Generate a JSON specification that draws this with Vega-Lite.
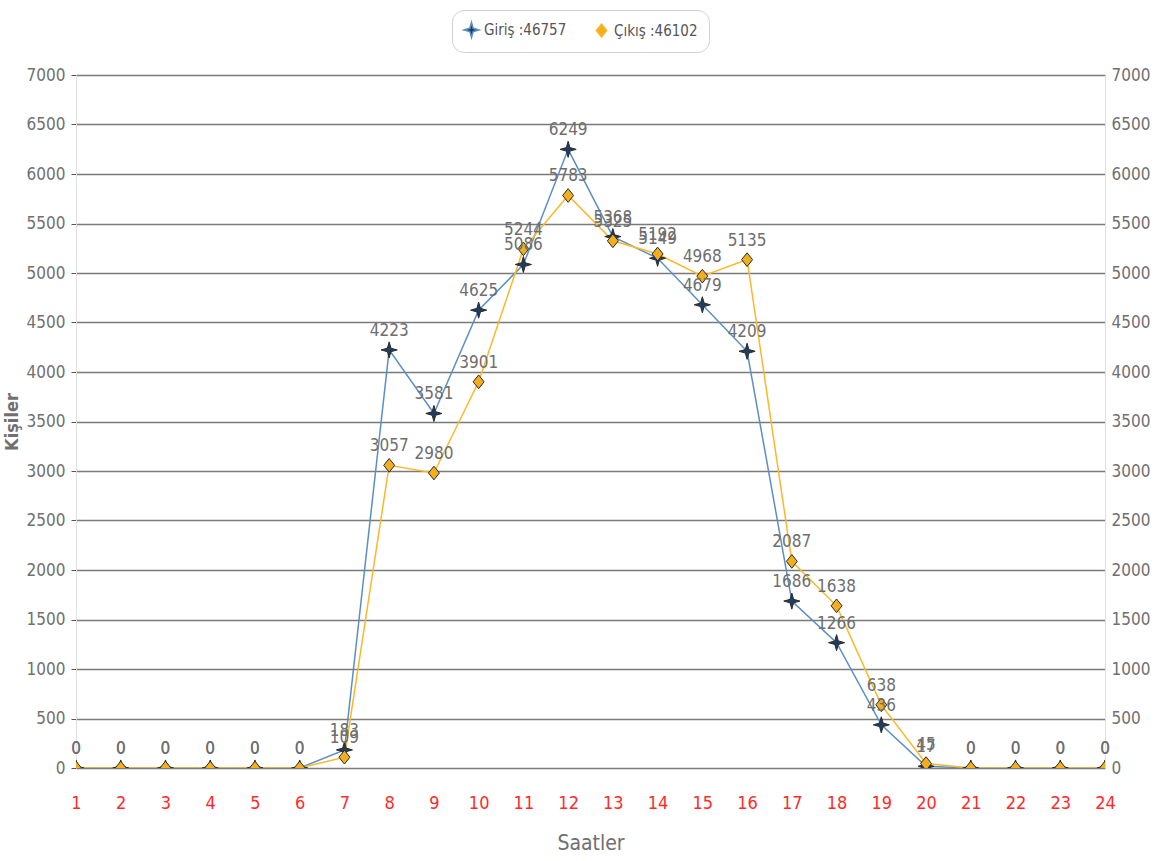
{
  "$schema": "https://vega.github.io/schema/vega-lite/v6.json",
  "autosize": "none",
  "width": 1029,
  "height": 693,
  "padding": {"left": 76, "top": 75, "right": 51, "bottom": 93},
  "background": "white",
  "config": {
    "view": {"stroke": null},
    "font": "DejaVu Sans Condensed",
    "axis": {"labelFont": "DejaVu Sans Condensed", "titleFont": "DejaVu Sans Condensed"},
    "legend": {"labelFont": "DejaVu Sans Condensed"}
  },
  "data": {
    "values": [
      {"hour": 1, "series": "Giriş :46757", "value": 0},
      {"hour": 2, "series": "Giriş :46757", "value": 0},
      {"hour": 3, "series": "Giriş :46757", "value": 0},
      {"hour": 4, "series": "Giriş :46757", "value": 0},
      {"hour": 5, "series": "Giriş :46757", "value": 0},
      {"hour": 6, "series": "Giriş :46757", "value": 0},
      {"hour": 7, "series": "Giriş :46757", "value": 183},
      {"hour": 8, "series": "Giriş :46757", "value": 4223},
      {"hour": 9, "series": "Giriş :46757", "value": 3581},
      {"hour": 10, "series": "Giriş :46757", "value": 4625},
      {"hour": 11, "series": "Giriş :46757", "value": 5086},
      {"hour": 12, "series": "Giriş :46757", "value": 6249},
      {"hour": 13, "series": "Giriş :46757", "value": 5368},
      {"hour": 14, "series": "Giriş :46757", "value": 5149},
      {"hour": 15, "series": "Giriş :46757", "value": 4679},
      {"hour": 16, "series": "Giriş :46757", "value": 4209},
      {"hour": 17, "series": "Giriş :46757", "value": 1686},
      {"hour": 18, "series": "Giriş :46757", "value": 1266},
      {"hour": 19, "series": "Giriş :46757", "value": 436},
      {"hour": 20, "series": "Giriş :46757", "value": 17},
      {"hour": 21, "series": "Giriş :46757", "value": 0},
      {"hour": 22, "series": "Giriş :46757", "value": 0},
      {"hour": 23, "series": "Giriş :46757", "value": 0},
      {"hour": 24, "series": "Giriş :46757", "value": 0},
      {"hour": 1, "series": "Çıkış :46102", "value": 0},
      {"hour": 2, "series": "Çıkış :46102", "value": 0},
      {"hour": 3, "series": "Çıkış :46102", "value": 0},
      {"hour": 4, "series": "Çıkış :46102", "value": 0},
      {"hour": 5, "series": "Çıkış :46102", "value": 0},
      {"hour": 6, "series": "Çıkış :46102", "value": 0},
      {"hour": 7, "series": "Çıkış :46102", "value": 109},
      {"hour": 8, "series": "Çıkış :46102", "value": 3057},
      {"hour": 9, "series": "Çıkış :46102", "value": 2980},
      {"hour": 10, "series": "Çıkış :46102", "value": 3901},
      {"hour": 11, "series": "Çıkış :46102", "value": 5244},
      {"hour": 12, "series": "Çıkış :46102", "value": 5783},
      {"hour": 13, "series": "Çıkış :46102", "value": 5325},
      {"hour": 14, "series": "Çıkış :46102", "value": 5192},
      {"hour": 15, "series": "Çıkış :46102", "value": 4968},
      {"hour": 16, "series": "Çıkış :46102", "value": 5135},
      {"hour": 17, "series": "Çıkış :46102", "value": 2087},
      {"hour": 18, "series": "Çıkış :46102", "value": 1638},
      {"hour": 19, "series": "Çıkış :46102", "value": 638},
      {"hour": 20, "series": "Çıkış :46102", "value": 45},
      {"hour": 21, "series": "Çıkış :46102", "value": 0},
      {"hour": 22, "series": "Çıkış :46102", "value": 0},
      {"hour": 23, "series": "Çıkış :46102", "value": 0},
      {"hour": 24, "series": "Çıkış :46102", "value": 0}
    ]
  },
  "encoding": {
    "x": {
      "field": "hour",
      "type": "quantitative",
      "scale": {"domain": [1, 24], "nice": false, "zero": false},
      "axis": {
        "values": [1,2,3,4,5,6,7,8,9,10,11,12,13,14,15,16,17,18,19,20,21,22,23,24],
        "title": "Saatler",
        "titleFontSize": 21,
        "titleFontWeight": "normal",
        "titleColor": "#707070",
        "titlePadding": 20,
        "labelColor": "#ff2a2a",
        "labelFontSize": 18,
        "labelPadding": 26,
        "labelFlush": false,
        "labelBound": false,
        "labelOverlap": false,
        "ticks": false,
        "domain": false,
        "grid": false
      }
    }
  },
  "layer": [
    {
      "mark": {"type": "line", "strokeWidth": 1.5, "clip": true},
      "encoding": {
        "y": {
          "field": "value",
          "type": "quantitative",
          "scale": {"domain": [0, 7000], "nice": false},
          "axis": {
            "values": [0,500,1000,1500,2000,2500,3000,3500,4000,4500,5000,5500,6000,6500,7000],
            "format": "d",
            "title": "Kişiler",
            "titleFontSize": 18,
            "titleFontWeight": "bold",
            "titleColor": "#707070",
            "titlePadding": 5,
            "labelColor": "#707070",
            "labelFontSize": 17,
            "labelPadding": 6,
            "grid": true,
            "gridColor": "#7a7a7a",
            "gridWidth": 1.5,
            "domainColor": "#e0e0e0",
            "tickColor": "#555555",
            "tickSize": 5
          }
        },
        "stroke": {
          "field": "series",
          "type": "nominal",
          "scale": {"domain": ["Giriş :46757", "Çıkış :46102"], "range": ["#5b8fc4", "#fbb829"]},
          "legend": {
            "title": null,
            "orient": "none",
            "direction": "horizontal",
            "legendX": 376,
            "legendY": -65,
            "padding": 11,
            "strokeColor": "#d0d0d0",
            "cornerRadius": 12,
            "labelFontSize": 15,
            "labelColor": "#555555",
            "symbolSize": 230,
            "columnPadding": 26,
            "symbolStrokeWidth": 1.5
          }
        }
      }
    },
    {
      "mark": {"type": "point", "filled": true, "strokeWidth": 1, "opacity": 1, "size": 260, "clip": true},
      "encoding": {
        "y": {
          "field": "value",
          "type": "quantitative",
          "scale": {"domain": [0, 7000], "nice": false},
          "axis": {
            "orient": "right",
            "values": [0,500,1000,1500,2000,2500,3000,3500,4000,4500,5000,5500,6000,6500,7000],
            "format": "d",
            "title": null,
            "labelColor": "#707070",
            "labelFontSize": 17,
            "labelPadding": 6,
            "grid": false,
            "domainColor": "#e0e0e0",
            "ticks": false
          }
        },
        "stroke": {"value": "#2a2a2a"},
        "fill": {
          "field": "series",
          "type": "nominal",
          "scale": {"domain": ["Giriş :46757", "Çıkış :46102"], "range": ["#1f3d60", "#f2ae1c"]},
          "legend": {
            "title": null,
            "orient": "none",
            "direction": "horizontal",
            "legendX": 376,
            "legendY": -65,
            "padding": 11,
            "strokeColor": "#d0d0d0",
            "cornerRadius": 12,
            "labelFontSize": 15,
            "labelColor": "#555555",
            "symbolSize": 230,
            "columnPadding": 26,
            "symbolStrokeWidth": 1.5
          }
        },
        "shape": {
          "field": "series",
          "type": "nominal",
          "scale": {
            "domain": ["Giriş :46757", "Çıkış :46102"],
            "range": ["M0,-1L0.22,-0.22L1,0L0.22,0.22L0,1L-0.22,0.22L-1,0L-0.22,-0.22Z", "M0,-0.85L0.68,0L0,0.85L-0.68,0Z"]
          },
          "legend": {
            "title": null,
            "orient": "none",
            "direction": "horizontal",
            "legendX": 376,
            "legendY": -65,
            "padding": 11,
            "strokeColor": "#d0d0d0",
            "cornerRadius": 12,
            "labelFontSize": 15,
            "labelColor": "#555555",
            "symbolSize": 230,
            "columnPadding": 26,
            "symbolStrokeWidth": 1.5
          }
        }
      }
    },
    {
      "mark": {"type": "text", "dy": -19, "fontSize": 17, "color": "#6e6e6e"},
      "encoding": {
        "y": {"field": "value", "type": "quantitative", "scale": {"domain": [0, 7000], "nice": false}, "axis": null},
        "text": {"field": "value", "type": "quantitative"}
      }
    }
  ],
  "resolve": {"scale": {"y": "independent"}}
}
